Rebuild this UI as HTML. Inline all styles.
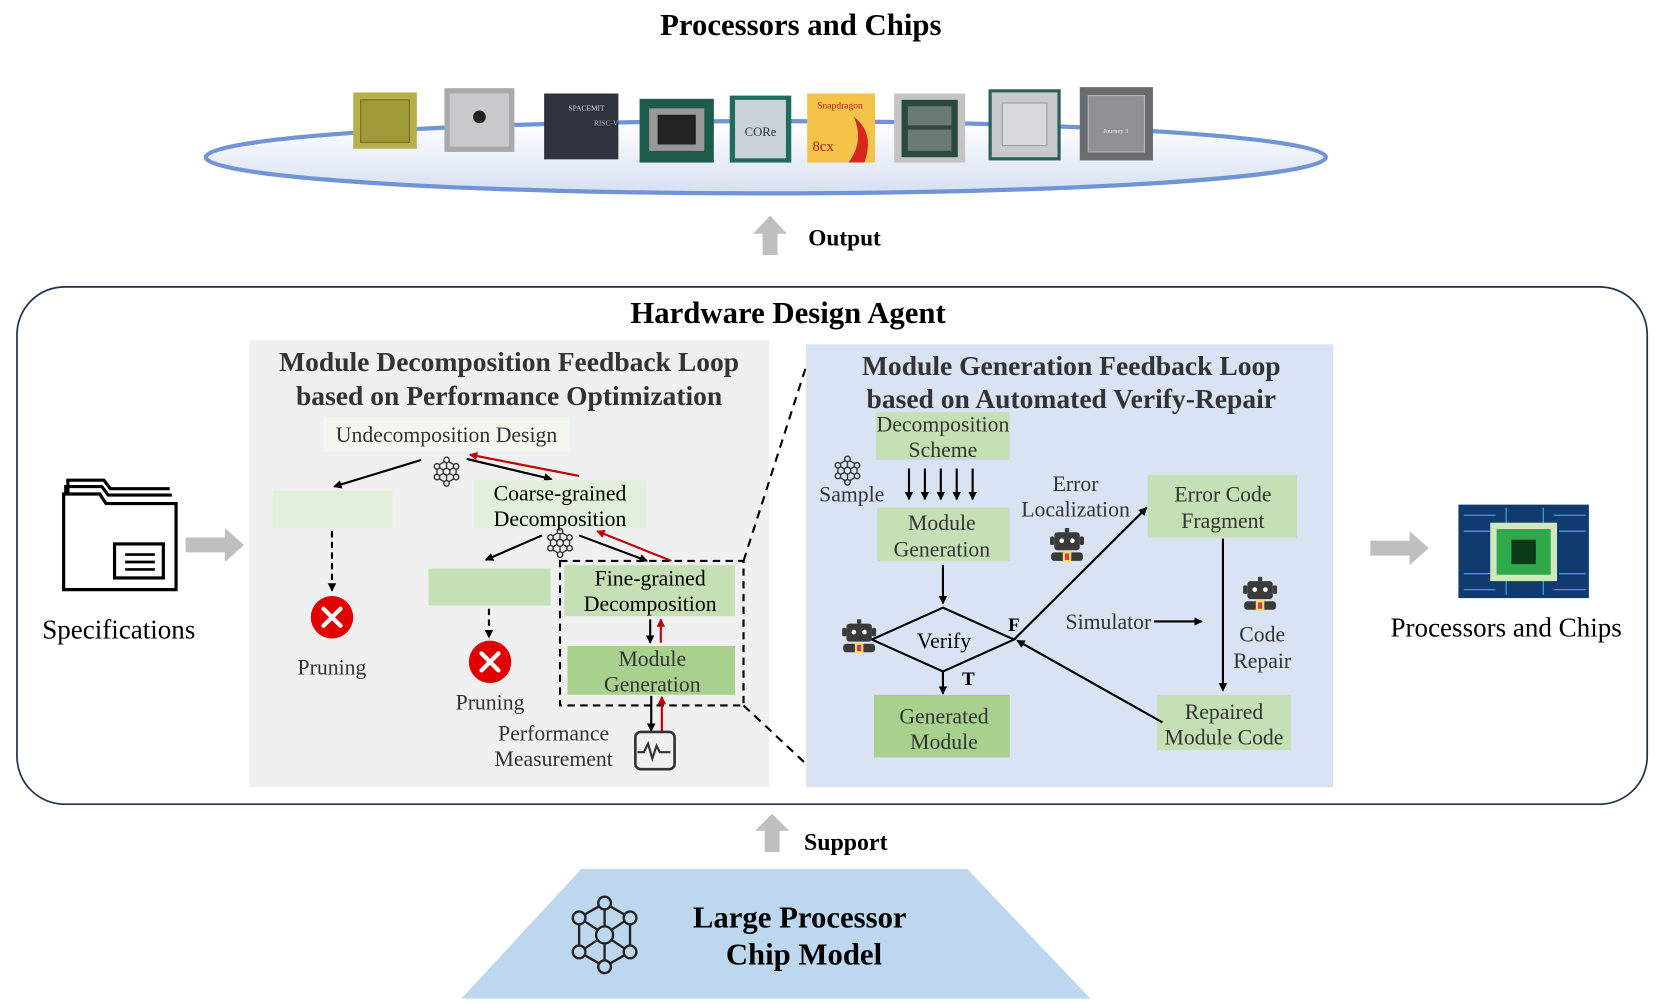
<!DOCTYPE html>
<html><head><meta charset="utf-8"><style>
html,body{margin:0;padding:0;background:#fff;}
svg{display:block;font-family:"Liberation Serif","Times New Roman","DejaVu Serif",serif;}
svg text{font-family:"Liberation Serif","Times New Roman","DejaVu Serif",serif;}
</style></head><body>
<svg width="1661" height="1005" viewBox="0 0 1566 946" preserveAspectRatio="none" xmlns="http://www.w3.org/2000/svg" font-family="Liberation Serif, Times New Roman, DejaVu Serif, serif">
<defs>
<marker id="ab" markerWidth="8" markerHeight="8" refX="7" refY="4" orient="auto" markerUnits="userSpaceOnUse"><path d="M0,0 L8,4 L0,8 z" fill="#000"/></marker>
<marker id="ar" markerWidth="8" markerHeight="8" refX="7" refY="4" orient="auto" markerUnits="userSpaceOnUse"><path d="M0,0 L8,4 L0,8 z" fill="#c00000"/></marker>
<linearGradient id="eg" x1="0" y1="0" x2="0" y2="1"><stop offset="0" stop-color="#ffffff"/><stop offset="1" stop-color="#d6e0f2"/></linearGradient>
<g id="net" fill="none" stroke="#333" stroke-width="1.3">
<circle cx="0" cy="-11" r="2.6"/><circle cx="0" cy="11" r="2.6"/><circle cx="-9" cy="-5" r="2.6"/><circle cx="9" cy="-5" r="2.6"/><circle cx="-9" cy="5" r="2.6"/><circle cx="9" cy="5" r="2.6"/><circle cx="0" cy="0" r="3.2"/>
<path d="M0,-8.4V-3.2M0,3.2V8.4M-7,-4 L-2.8,-1.5M7,-4L2.8,-1.5M-7,4L-2.8,1.5M7,4L2.8,1.5M-9,-2.4V2.4M9,-2.4V2.4M-2,-9.5L-7,-6.5M2,-9.5L7,-6.5M-2,9.5L-7,6.5M2,9.5L7,6.5"/>
</g>
<g id="robot">
<rect x="-12" y="-13" width="24" height="17" rx="3" fill="#3a3a3a"/>
<rect x="-2" y="-17" width="4" height="4" fill="#3a3a3a"/>
<rect x="-16" y="-9" width="4" height="8" rx="1.5" fill="#3a3a3a"/><rect x="12" y="-9" width="4" height="8" rx="1.5" fill="#3a3a3a"/>
<circle cx="-5" cy="-5" r="2.2" fill="#fff"/><circle cx="5" cy="-5" r="2.2" fill="#fff"/>
<rect x="-15" y="6" width="30" height="8" rx="3" fill="#3a3a3a"/>
<rect x="-4" y="5" width="8" height="10" fill="#f4e05a"/><rect x="-2" y="7" width="4" height="6" fill="#e0306a"/>
</g>
</defs>

<text x="755" y="33" font-size="29" font-weight="bold" text-anchor="middle" fill="#000">Processors and Chips</text>
<ellipse cx="722" cy="148" rx="528" ry="34" fill="url(#eg)" stroke="#7094d6" stroke-width="4"/>
<rect x="333" y="87" width="60" height="53" fill="#b7b04a"/><rect x="340" y="94" width="46" height="40" fill="#9f9a38" stroke="#6e6a20"/>
<rect x="419" y="83" width="66" height="60" fill="#a9a9ab"/><rect x="424" y="88" width="56" height="50" fill="#c9c9cb"/><circle cx="452" cy="110" r="6" fill="#222"/>
<rect x="513" y="88" width="70" height="62" fill="#2f3340"/><text x="553" y="104" font-size="7" fill="#ddd" text-anchor="middle">SPACEMIT</text><text x="560" y="118" font-size="7" fill="#bbb">RISC-V</text>
<rect x="603" y="93" width="70" height="60" fill="#1d5c4a"/><rect x="612" y="102" width="52" height="40" fill="#999"/><rect x="620" y="108" width="36" height="28" fill="#222"/>
<rect x="688" y="90" width="58" height="63" fill="#1f6b5d"/><rect x="693" y="94" width="48" height="55" fill="#c8d2d8"/><text x="717" y="128" font-size="12" fill="#333" text-anchor="middle">CORe</text>
<rect x="761" y="88" width="64" height="65" fill="#f3c34a"/><text x="792" y="102" font-size="9" fill="#c2231b" text-anchor="middle">Snapdragon</text><path d="M805,110 q20,15 10,43 h-15 q15,-20 5,-43z" fill="#d7261e"/><text x="766" y="142" font-size="14" fill="#c2231b">8cx</text>
<rect x="843" y="88" width="67" height="65" fill="#c4c4c4"/><rect x="850" y="94" width="53" height="54" fill="#2b4a3f"/><rect x="856" y="100" width="41" height="18" fill="#6c7a75"/><rect x="856" y="122" width="41" height="20" fill="#6c7a75"/>
<rect x="932" y="84" width="68" height="67" fill="#2c5f57"/><rect x="935" y="87" width="62" height="61" fill="#c7c9cb"/><rect x="945" y="97" width="42" height="40" fill="#d8d9db" stroke="#999"/>
<rect x="1018" y="82" width="69" height="69" fill="#6a6d70"/><rect x="1026" y="90" width="53" height="53" fill="#8e9195" stroke="#b6b8bb"/><text x="1052" y="125" font-size="6" fill="#eee" text-anchor="middle">Journey 3</text>

<path d="M719,240 V220 H710 L726,203 L742,220 H733 V240 Z" fill="#bfbfbf"/>
<text x="762" y="231" font-size="22" font-weight="bold">Output</text>

<rect x="16" y="270" width="1537" height="487" rx="45" fill="#fff" stroke="#1f3050" stroke-width="1.6"/>
<text x="743" y="304" font-size="29" font-weight="bold" text-anchor="middle">Hardware Design Agent</text>

<rect x="235" y="320" width="490" height="421" fill="#f0f0f0"/>
<text x="480" y="349" font-size="26" font-weight="bold" text-anchor="middle" fill="#333">Module Decomposition Feedback Loop</text>
<text x="480" y="381" font-size="26" font-weight="bold" text-anchor="middle" fill="#333">based on Performance Optimization</text>

<rect x="305" y="393" width="232" height="32" fill="#f2f8ee"/>
<text x="421" y="416" font-size="20.5" text-anchor="middle" fill="#333">Undecomposition Design</text>
<use href="#net" x="421" y="444"/>
<line x1="397" y1="433" x2="315" y2="458" stroke="#000" stroke-width="2" marker-end="url(#ab)"/>
<line x1="440" y1="432" x2="520" y2="451" stroke="#000" stroke-width="2" marker-end="url(#ab)"/>
<line x1="546" y1="448" x2="443" y2="428" stroke="#c00000" stroke-width="2" marker-end="url(#ar)"/>

<rect x="257" y="462" width="113" height="35" fill="#e2efda"/>
<rect x="447" y="452" width="162" height="45" fill="#e2efda"/>
<text x="528" y="471" font-size="20.5" text-anchor="middle">Coarse-grained</text>
<text x="528" y="495" font-size="20.5" text-anchor="middle">Decomposition</text>
<use href="#net" x="528" y="511"/>
<line x1="511" y1="504" x2="458" y2="527" stroke="#000" stroke-width="2" marker-end="url(#ab)"/>
<line x1="546" y1="504" x2="610" y2="528" stroke="#000" stroke-width="2" marker-end="url(#ab)"/>
<line x1="633" y1="528" x2="563" y2="500" stroke="#c00000" stroke-width="2" marker-end="url(#ar)"/>

<line x1="313" y1="500" x2="313" y2="556" stroke="#000" stroke-width="2" stroke-dasharray="6,4" marker-end="url(#ab)"/>
<circle cx="313" cy="581" r="20" fill="#e00000"/>
<path d="M305,573 L321,589 M321,573 L305,589" stroke="#fff" stroke-width="4" stroke-linecap="round"/>
<text x="313" y="635" font-size="20.5" text-anchor="middle" fill="#333">Pruning</text>

<rect x="404" y="535" width="115" height="35" fill="#c5e0b4"/>
<line x1="461" y1="573" x2="461" y2="600" stroke="#000" stroke-width="2" stroke-dasharray="6,4" marker-end="url(#ab)"/>
<circle cx="462" cy="623" r="20" fill="#e00000"/>
<path d="M454,615 L470,631 M470,615 L454,631" stroke="#fff" stroke-width="4" stroke-linecap="round"/>
<text x="462" y="668" font-size="20.5" text-anchor="middle" fill="#333">Pruning</text>

<rect x="528" y="528" width="173" height="136" fill="none" stroke="#000" stroke-width="2" stroke-dasharray="7,5"/>
<rect x="532" y="532" width="161" height="48" fill="#c5e0b4"/>
<text x="613" y="551" font-size="20.5" text-anchor="middle">Fine-grained</text>
<text x="613" y="575" font-size="20.5" text-anchor="middle">Decomposition</text>
<line x1="613" y1="583" x2="613" y2="605" stroke="#000" stroke-width="2" marker-end="url(#ab)"/>
<line x1="623" y1="605" x2="623" y2="583" stroke="#c00000" stroke-width="2" marker-end="url(#ar)"/>
<rect x="535" y="608" width="158" height="46" fill="#a9d18e"/>
<text x="615" y="627" font-size="20.5" text-anchor="middle" fill="#333">Module</text>
<text x="615" y="651" font-size="20.5" text-anchor="middle" fill="#333">Generation</text>
<line x1="614" y1="655" x2="614" y2="688" stroke="#000" stroke-width="2" marker-end="url(#ab)"/>
<line x1="624" y1="688" x2="624" y2="656" stroke="#c00000" stroke-width="2" marker-end="url(#ar)"/>
<rect x="599" y="689" width="37" height="35" rx="5" fill="none" stroke="#333" stroke-width="2.5"/>
<path d="M601,708 h6 l4,-8 l4,14 l4,-12 l3,6 h10" fill="none" stroke="#333" stroke-width="2"/>
<text x="522" y="697" font-size="20.5" text-anchor="middle" fill="#333">Performance</text>
<text x="522" y="721" font-size="20.5" text-anchor="middle" fill="#333">Measurement</text>

<line x1="701" y1="528" x2="760" y2="345" stroke="#000" stroke-width="2" stroke-dasharray="8,6"/>
<line x1="701" y1="664" x2="762" y2="721" stroke="#000" stroke-width="2" stroke-dasharray="8,6"/>

<rect x="760" y="324" width="497" height="417" fill="#dae3f3"/>
<text x="1010" y="353" font-size="26" font-weight="bold" text-anchor="middle" fill="#333">Module Generation Feedback Loop</text>
<text x="1010" y="384" font-size="26" font-weight="bold" text-anchor="middle" fill="#333">based on Automated Verify-Repair</text>

<rect x="826" y="388" width="126" height="45" fill="#c5e0b4"/>
<text x="889" y="406" font-size="20.5" text-anchor="middle" fill="#333">Decomposition</text>
<text x="889" y="430" font-size="20.5" text-anchor="middle" fill="#333">Scheme</text>
<use href="#net" x="799" y="443"/>
<text x="803" y="472" font-size="20.5" text-anchor="middle" fill="#333">Sample</text>
<g stroke="#000" stroke-width="2">
<line x1="857" y1="441" x2="857" y2="470" marker-end="url(#ab)"/>
<line x1="872" y1="441" x2="872" y2="470" marker-end="url(#ab)"/>
<line x1="887" y1="441" x2="887" y2="470" marker-end="url(#ab)"/>
<line x1="902" y1="441" x2="902" y2="470" marker-end="url(#ab)"/>
<line x1="917" y1="441" x2="917" y2="470" marker-end="url(#ab)"/>
</g>
<rect x="827" y="478" width="125" height="50" fill="#c5e0b4"/>
<text x="888" y="499" font-size="20.5" text-anchor="middle" fill="#333">Module</text>
<text x="888" y="524" font-size="20.5" text-anchor="middle" fill="#333">Generation</text>
<line x1="889" y1="532" x2="889" y2="568" stroke="#000" stroke-width="2" marker-end="url(#ab)"/>
<path d="M889,572 L822,602 L889,632 L956,602 Z" fill="none" stroke="#000" stroke-width="2"/>
<text x="890" y="610" font-size="20.5" text-anchor="middle">Verify</text>
<use href="#robot" x="810" y="600"/>
<line x1="889" y1="632" x2="889" y2="653" stroke="#000" stroke-width="2" marker-end="url(#ab)"/>
<text x="913" y="645" font-size="18" font-weight="bold" text-anchor="middle">T</text>
<rect x="824" y="654" width="128" height="59" fill="#a9d18e"/>
<text x="890" y="681" font-size="20.5" text-anchor="middle" fill="#333">Generated</text>
<text x="890" y="705" font-size="20.5" text-anchor="middle" fill="#333">Module</text>
<text x="956" y="594" font-size="18" font-weight="bold" text-anchor="middle">F</text>
<line x1="956" y1="602" x2="1081" y2="478" stroke="#000" stroke-width="2" marker-end="url(#ab)"/>
<text x="1014" y="462" font-size="20.5" text-anchor="middle" fill="#333">Error</text>
<text x="1014" y="486" font-size="20.5" text-anchor="middle" fill="#333">Localization</text>
<use href="#robot" x="1006" y="514"/>
<rect x="1082" y="447" width="141" height="59" fill="#c5e0b4"/>
<text x="1153" y="472" font-size="20.5" text-anchor="middle" fill="#333">Error Code</text>
<text x="1153" y="497" font-size="20.5" text-anchor="middle" fill="#333">Fragment</text>
<line x1="1153" y1="507" x2="1153" y2="650" stroke="#000" stroke-width="2" marker-end="url(#ab)"/>
<use href="#robot" x="1188" y="560"/>
<text x="1190" y="604" font-size="20.5" text-anchor="middle" fill="#333">Code</text>
<text x="1190" y="629" font-size="20.5" text-anchor="middle" fill="#333">Repair</text>
<text x="1045" y="592" font-size="20.5" text-anchor="middle" fill="#333">Simulator</text>
<line x1="1088" y1="585" x2="1133" y2="585" stroke="#000" stroke-width="2" marker-end="url(#ab)"/>
<rect x="1091" y="654" width="126" height="52" fill="#c5e0b4"/>
<text x="1154" y="677" font-size="20.5" text-anchor="middle" fill="#333">Repaired</text>
<text x="1154" y="701" font-size="20.5" text-anchor="middle" fill="#333">Module Code</text>
<line x1="1096" y1="680" x2="959" y2="603" stroke="#000" stroke-width="2" marker-end="url(#ab)"/>

<g fill="none" stroke="#000" stroke-width="3">
<path d="M64,472 V452 H98 L104,460 H160"/>
<path d="M62,478 V458 H96 L102,466 H162"/>
<path d="M60,555 V465 H94 L100,474 H166 V555 Z" fill="#fff"/>
<rect x="108" y="512" width="46" height="32"/>
<path d="M118,522 H146 M118,529 H146 M118,536 H146" stroke-width="2.5"/>
</g>
<text x="112" y="601" font-size="25.5" text-anchor="middle">Specifications</text>
<path d="M175,506 H212 V497 L230,513 L212,529 V520 H175 Z" fill="#bfbfbf"/>

<rect x="1375" y="475" width="123" height="88" fill="#0f3b6e"/>
<g stroke="#3fa0e0" stroke-width="1.2" fill="none">
<path d="M1380,485 H1410 M1380,500 H1405 M1380,540 H1405 M1380,555 H1410 M1465,485 H1495 M1470,500 H1495 M1470,540 H1495 M1465,555 H1495 M1420,478 V495 M1455,478 V495 M1420,545 V560 M1455,545 V560"/>
</g>
<rect x="1405" y="492" width="63" height="55" fill="#cfe8c0"/>
<rect x="1411" y="498" width="51" height="43" fill="#2fa84a"/>
<rect x="1425" y="508" width="23" height="23" fill="#0b3a18"/>
<text x="1420" y="599" font-size="25.5" text-anchor="middle">Processors and Chips</text>
<path d="M1292,509 H1329 V500 L1347,516 L1329,532 V523 H1292 Z" fill="#bfbfbf"/>

<path d="M721,802 V782 H712 L728,766 L744,782 H735 V802 Z" fill="#bfbfbf"/>
<text x="758" y="800" font-size="22.5" font-weight="bold">Support</text>

<path d="M548,818 H912 L1028,940 H435 Z" fill="#bdd7ee"/>
<g fill="none" stroke="#222" stroke-width="2.2">
<circle cx="570" cy="850" r="6"/><circle cx="570" cy="910" r="6"/>
<circle cx="546" cy="864" r="6"/><circle cx="594" cy="864" r="6"/>
<circle cx="546" cy="896" r="6"/><circle cx="594" cy="896" r="6"/>
<circle cx="570" cy="880" r="8"/>
<path d="M570,856 V872 M570,888 V904 M551,867 L563,875 M589,867 L577,875 M551,893 L563,885 M589,893 L577,885 M546,870 V890 M594,870 V890 M565,853 L551,861 M575,853 L589,861 M565,907 L551,899 M575,907 L589,899"/>
</g>
<text x="754" y="873" font-size="29" font-weight="bold" text-anchor="middle">Large Processor</text>
<text x="758" y="908" font-size="29" font-weight="bold" text-anchor="middle">Chip Model</text>
</svg>
</body></html>
